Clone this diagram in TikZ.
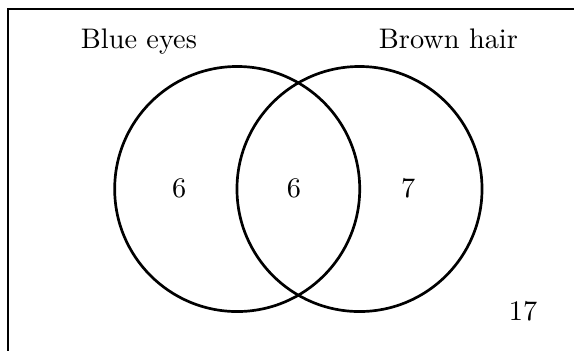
\documentclass[tikz,border=0pt]{standalone}
\usepackage{tikz}
\usetikzlibrary{positioning}

\begin{document}
\begin{tikzpicture}[
  x=0.3534pt, y=-0.3534pt,
  venn/.style ={circle, draw=black, line width=0.95pt,
                minimum size=86.6pt, inner sep=0pt},
  lbl/.style  ={anchor=base, inner sep=0pt, font=\normalsize},
  num/.style  ={anchor=base, inner sep=0pt, font=\normalsize},
]

%% marco
\useasboundingbox (0,0) rectangle (574,350);
\clip (0,0) rectangle (574,350);
\draw[line width=0.95pt] (8,9) rectangle (620,400);

%% conjuntos
\node[venn] (BE) at (237.2,189) {};
\node[venn] (BH) at (359.5,189) {};

\node[lbl] (LBE) at (138.9,48.3) {Blue eyes};
\node[lbl] (LBH) at (448.4,48.3) {Brown hair};

%% regiones
\node[num] (NBE)  at (179.3,197) {6};
\node[num] (NINT) at (294.0,197) {6};
\node[num] (NBH)  at (408.3,197) {7};
\node[num] (NOUT) at (523.0,320.7) {17};

\end{tikzpicture}
\end{document}
